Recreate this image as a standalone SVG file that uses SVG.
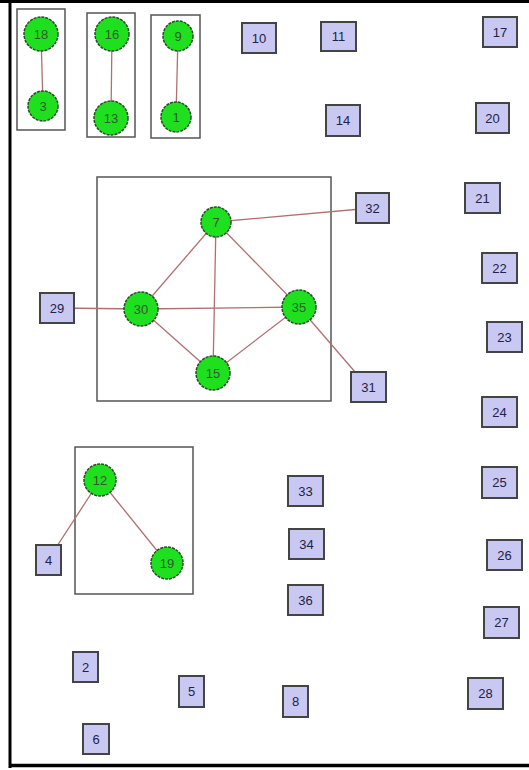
<svg xmlns="http://www.w3.org/2000/svg" width="529" height="770" viewBox="0 0 529 770">
<style>
.grp{fill:none;stroke:#555;stroke-width:1.5}
.e{stroke:#b07070;stroke-width:1.3;fill:none}
.c circle{fill:#1fe01f;stroke:#2a4a2a;stroke-width:1.5;stroke-dasharray:3 1}
.c text{font-family:"Liberation Sans",Arial,sans-serif;font-size:13px;fill:#2e5a2e;text-anchor:middle;dominant-baseline:central}
.s rect{fill:#c8c8f2;stroke:#444;stroke-width:2}
.s text{font-family:"Liberation Sans",Arial,sans-serif;font-size:13px;fill:#222244;text-anchor:middle;dominant-baseline:central}
</style>
<rect x="0" y="0" width="529" height="770" fill="#fff"/>
<line x1="0" y1="1.5" x2="529" y2="1.5" stroke="#000" stroke-width="3"/>
<line x1="10" y1="0" x2="10" y2="768" stroke="#000" stroke-width="3"/>
<line x1="9" y1="765.5" x2="529" y2="765.5" stroke="#000" stroke-width="3.5"/>
<g id="groups">
<rect class="grp" x="17" y="9" width="48" height="121"/>
<rect class="grp" x="87" y="13" width="48" height="124"/>
<rect class="grp" x="151" y="15" width="49" height="123"/>
<rect class="grp" x="97" y="177" width="234" height="224"/>
<rect class="grp" x="75" y="447" width="118" height="147"/>
</g>
<g id="connectors">
<line class="e" x1="41" y1="34" x2="43" y2="106"/>
<line class="e" x1="112" y1="34" x2="111" y2="118"/>
<line class="e" x1="178" y1="36" x2="176" y2="117"/>
<line class="e" x1="216" y1="222" x2="372" y2="208"/>
<line class="e" x1="216" y1="222" x2="141" y2="309"/>
<line class="e" x1="216" y1="222" x2="213" y2="373"/>
<line class="e" x1="216" y1="222" x2="299" y2="307"/>
<line class="e" x1="57" y1="308" x2="141" y2="309"/>
<line class="e" x1="141" y1="309" x2="299" y2="307"/>
<line class="e" x1="141" y1="309" x2="213" y2="373"/>
<line class="e" x1="299" y1="307" x2="213" y2="373"/>
<line class="e" x1="299" y1="307" x2="368" y2="387"/>
<line class="e" x1="100" y1="480" x2="48" y2="560"/>
<line class="e" x1="100" y1="480" x2="167" y2="563"/>
</g>
<g id="n18" class="c"><circle cx="41" cy="34" r="17"/><text x="41" y="34">18</text></g>
<g id="n3" class="c"><circle cx="43" cy="106" r="15"/><text x="43" y="106">3</text></g>
<g id="n16" class="c"><circle cx="112" cy="34" r="17"/><text x="112" y="34">16</text></g>
<g id="n13" class="c"><circle cx="111" cy="118" r="17"/><text x="111" y="118">13</text></g>
<g id="n9" class="c"><circle cx="178" cy="36" r="15"/><text x="178" y="36">9</text></g>
<g id="n1" class="c"><circle cx="176" cy="117" r="15"/><text x="176" y="117">1</text></g>
<g id="n7" class="c"><circle cx="216" cy="222" r="15"/><text x="216" y="222">7</text></g>
<g id="n30" class="c"><circle cx="141" cy="309" r="17"/><text x="141" y="309">30</text></g>
<g id="n35" class="c"><circle cx="299" cy="307" r="17"/><text x="299" y="307">35</text></g>
<g id="n15" class="c"><circle cx="213" cy="373" r="17"/><text x="213" y="373">15</text></g>
<g id="n12" class="c"><circle cx="100" cy="480" r="16"/><text x="100" y="480">12</text></g>
<g id="n19" class="c"><circle cx="167" cy="563" r="16"/><text x="167" y="563">19</text></g>
<g id="n10" class="s"><rect x="242" y="23" width="34" height="30"/><text x="259" y="38">10</text></g>
<g id="n11" class="s"><rect x="321" y="22" width="35" height="29"/><text x="338.5" y="36.5">11</text></g>
<g id="n17" class="s"><rect x="483" y="17" width="34" height="30"/><text x="500" y="32">17</text></g>
<g id="n14" class="s"><rect x="326" y="105" width="34" height="31"/><text x="343" y="120.5">14</text></g>
<g id="n20" class="s"><rect x="476" y="103" width="33" height="30"/><text x="492.5" y="118">20</text></g>
<g id="n21" class="s"><rect x="465" y="183" width="35" height="30"/><text x="482.5" y="198">21</text></g>
<g id="n32" class="s"><rect x="356" y="193" width="33" height="30"/><text x="372.5" y="208">32</text></g>
<g id="n22" class="s"><rect x="482" y="253" width="35" height="30"/><text x="499.5" y="268">22</text></g>
<g id="n29" class="s"><rect x="40" y="293" width="34" height="30"/><text x="57" y="308">29</text></g>
<g id="n23" class="s"><rect x="487" y="322" width="35" height="30"/><text x="504.5" y="337">23</text></g>
<g id="n31" class="s"><rect x="351" y="372" width="35" height="30"/><text x="368.5" y="387">31</text></g>
<g id="n24" class="s"><rect x="482" y="397" width="35" height="30"/><text x="499.5" y="412">24</text></g>
<g id="n25" class="s"><rect x="482" y="467" width="35" height="31"/><text x="499.5" y="482.5">25</text></g>
<g id="n33" class="s"><rect x="288" y="476" width="35" height="30"/><text x="305.5" y="491">33</text></g>
<g id="n34" class="s"><rect x="289" y="529" width="35" height="30"/><text x="306.5" y="544">34</text></g>
<g id="n26" class="s"><rect x="487" y="540" width="35" height="30"/><text x="504.5" y="555">26</text></g>
<g id="n4" class="s"><rect x="36" y="545" width="25" height="30"/><text x="48.5" y="560">4</text></g>
<g id="n36" class="s"><rect x="288" y="585" width="35" height="30"/><text x="305.5" y="600">36</text></g>
<g id="n27" class="s"><rect x="484" y="607" width="35" height="31"/><text x="501.5" y="622.5">27</text></g>
<g id="n2" class="s"><rect x="73" y="652" width="25" height="30"/><text x="85.5" y="667">2</text></g>
<g id="n5" class="s"><rect x="179" y="676" width="25" height="31"/><text x="191.5" y="691.5">5</text></g>
<g id="n28" class="s"><rect x="468" y="678" width="35" height="31"/><text x="485.5" y="693.5">28</text></g>
<g id="n8" class="s"><rect x="283" y="686" width="25" height="31"/><text x="295.5" y="701.5">8</text></g>
<g id="n6" class="s"><rect x="83" y="724" width="26" height="30"/><text x="96" y="739">6</text></g>
</svg>
